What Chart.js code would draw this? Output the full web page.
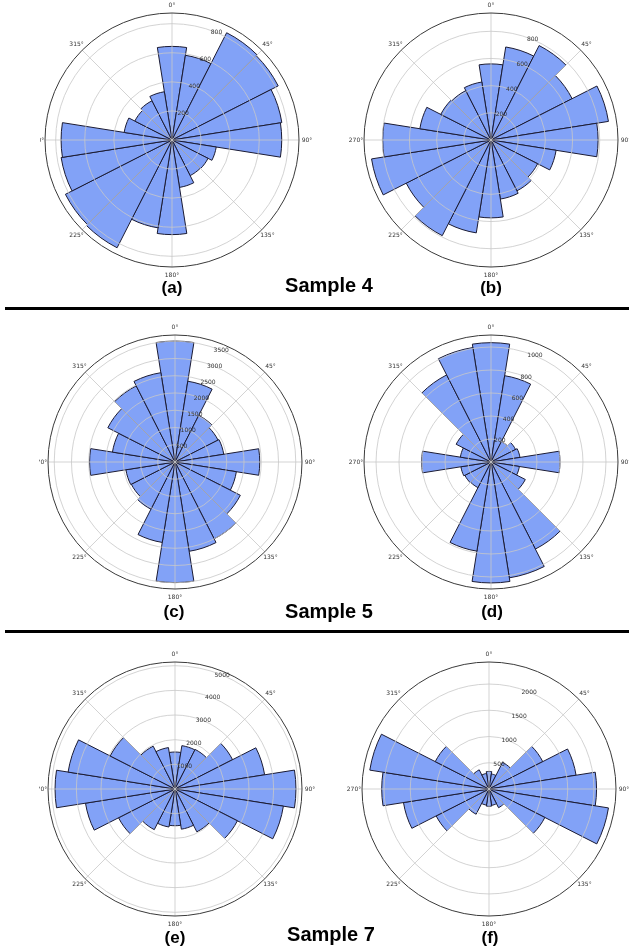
<!DOCTYPE html>
<html>
<head>
<meta charset="utf-8">
<script src="https://cdn.jsdelivr.net/npm/chart.js@4.4.0/dist/chart.umd.min.js"></script>
<style>
  body { margin: 0; background: #fff; width: 629px; height: 951px; position: relative; overflow: hidden; font-family: "Liberation Sans", Arial, sans-serif; }
  canvas { position: absolute; }
  .sub { position: absolute; font-weight: bold; font-size: 17px; line-height: 17px; transform: translateX(-50%); white-space: nowrap; }
  .sample { position: absolute; font-weight: bold; font-size: 20px; line-height: 20px; transform: translateX(-50%); white-space: nowrap; }
  .sep { position: absolute; left: 5px; width: 624px; height: 3px; background: #000; }
</style>
</head>
<body>
<!-- left panels were cropped at about x=40 in the original figure -->
<canvas id="roseA" width="300" height="300" style="left:22px;top:-10px;clip-path:inset(0 0 0 18px)"></canvas>
<canvas id="roseB" width="300" height="300" style="left:341px;top:-10px"></canvas>
<canvas id="roseC" width="300" height="300" style="left:25px;top:312px;clip-path:inset(0 0 0 14px)"></canvas>
<canvas id="roseD" width="300" height="300" style="left:341px;top:312px"></canvas>
<canvas id="roseE" width="300" height="300" style="left:25px;top:639px;clip-path:inset(0 0 0 14px)"></canvas>
<canvas id="roseF" width="300" height="300" style="left:339px;top:639px"></canvas>

<div class="sub" style="left:172px;top:279px">(a)</div>
<div class="sample" style="left:329px;top:275px">Sample 4</div>
<div class="sub" style="left:491px;top:279px">(b)</div>
<div class="sep" style="top:307px"></div>

<div class="sub" style="left:174px;top:603px">(c)</div>
<div class="sample" style="left:329px;top:601px">Sample 5</div>
<div class="sub" style="left:492px;top:603px">(d)</div>
<div class="sep" style="top:630px"></div>

<div class="sub" style="left:175px;top:929px">(e)</div>
<div class="sample" style="left:331px;top:924px">Sample 7</div>
<div class="sub" style="left:490px;top:929px">(f)</div>

<script>
// bin centres (degrees, clockwise from north), 18 degree bins
const binCentres = [0, 18, 36, 54, 72, 90, 108, 126, 144, 162, 180, 198, 216, 234, 252, 270, 288, 306, 324, 342];
const thetaTicks = [0, 45, 90, 135, 180, 225, 270, 315];

// counts per bin
const sample4a = [644, 590, 828, 820, 765, 755, 308, 278, 275, 330, 651, 612, 832, 823, 772, 763, 333, 287, 303, 336];
const sample4b = [560, 693, 780, 670, 875, 788, 485, 385, 420, 440, 573, 692, 790, 700, 890, 797, 530, 415, 408, 432];
const sample5c = [3505, 2370, 1515, 1400, 1430, 2456, 1800, 2125, 2500, 2620, 3495, 2360, 1535, 1420, 1440, 2475, 1835, 2185, 2475, 2620];
const sample5d = [1038, 760, 200, 240, 255, 600, 250, 335, 850, 1020, 1052, 785, 250, 255, 265, 603, 270, 340, 850, 1008];
const sample7e = [1500, 1780, 1800, 2620, 3680, 4905, 4450, 2840, 1950, 1650, 1490, 1560, 1850, 2570, 3675, 4865, 4390, 2950, 1950, 1700];
const sample7f = [335, 290, 570, 1150, 1680, 2050, 2305, 1195, 400, 315, 330, 310, 540, 1130, 1650, 2045, 2300, 1150, 410, 300];

// radial tick labels
const ticks4a = [200, 400, 600, 800];
const ticks4b = [200, 400, 600, 800];
const ticks5c = [500, 1000, 1500, 2000, 2500, 3000, 3500];
const ticks5d = [200, 400, 600, 800, 1000];
const ticks7e = [1000, 2000, 3000, 4000, 5000];
const ticks7f = [500, 1000, 1500, 2000];

// grid, outer ring and labels drawn over the bars like matplotlib does
const roseAxes = {
  id: "roseAxes",
  afterDatasetsDraw(chart, args, opts) {
    const s = chart.scales.r;
    const ctx = chart.ctx;
    const cx = s.xCenter, cy = s.yCenter, R = s.drawingArea;
    ctx.save();
    ctx.strokeStyle = "#c8c8c8";
    ctx.lineWidth = 0.8;
    opts.ticks.forEach(v => {
      const r = s.getDistanceFromCenterForValue(v);
      ctx.beginPath();
      ctx.arc(cx, cy, r, 0, Math.PI * 2);
      ctx.stroke();
    });
    thetaTicks.forEach(a => {
      const t = (a - 90) * Math.PI / 180;
      ctx.beginPath();
      ctx.moveTo(cx, cy);
      ctx.lineTo(cx + R * Math.cos(t), cy + R * Math.sin(t));
      ctx.stroke();
    });
    ctx.strokeStyle = "#3a3a3a";
    ctx.lineWidth = 1;
    ctx.beginPath();
    ctx.arc(cx, cy, R, 0, Math.PI * 2);
    ctx.stroke();

    ctx.fillStyle = "#333";
    ctx.font = '6px "DejaVu Sans"';
    ctx.textAlign = "center";
    ctx.textBaseline = "middle";
    thetaTicks.forEach(a => {
      const t = (a - 90) * Math.PI / 180;
      ctx.fillText(a + "°", cx + (R + 8) * Math.cos(t), cy + (R + 8) * Math.sin(t));
    });
    const lt = (22.5 - 90) * Math.PI / 180;
    opts.ticks.forEach(v => {
      const r = s.getDistanceFromCenterForValue(v);
      ctx.fillText(String(v), cx + r * Math.cos(lt), cy + r * Math.sin(lt));
    });
    ctx.restore();
  }
};

function rose(id, values, ticks) {
  new Chart(document.getElementById(id), {
    type: "polarArea",
    data: {
      labels: binCentres.map(d => d + "°"),
      datasets: [{
        data: values,
        backgroundColor: "#82a2f7",
        borderColor: "#1b1b33",
        borderWidth: 1
      }]
    },
    options: {
      responsive: false,
      animation: false,
      layout: { padding: 23 },
      plugins: {
        legend: { display: false },
        tooltip: { enabled: false },
        roseAxes: { ticks: ticks }
      },
      scales: {
        r: {
          min: 0,
          max: Math.max(...values) * 1.05,
          startAngle: -9,
          ticks: { display: false },
          grid: { display: false },
          angleLines: { display: false },
          pointLabels: { display: false }
        }
      }
    },
    plugins: [roseAxes]
  });
}

rose("roseA", sample4a, ticks4a);
rose("roseB", sample4b, ticks4b);
rose("roseC", sample5c, ticks5c);
rose("roseD", sample5d, ticks5d);
rose("roseE", sample7e, ticks7e);
rose("roseF", sample7f, ticks7f);
</script>
</body>
</html>
